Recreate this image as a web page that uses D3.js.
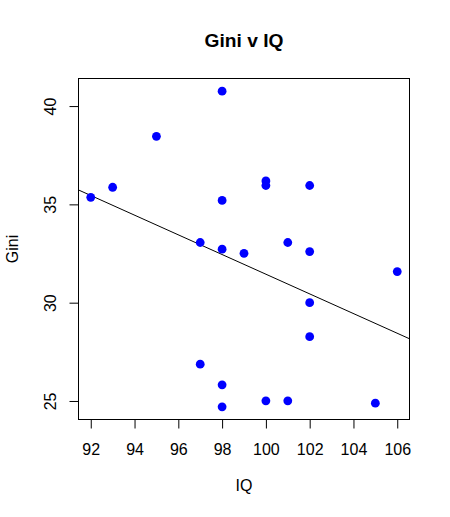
<!DOCTYPE html>
<html>
<head>
<meta charset="utf-8">
<script src="https://cdn.jsdelivr.net/npm/d3@7"></script>
<style>
  body { margin: 0; background: #fff; }
  svg { display: block; font-family: "Liberation Sans", Arial, sans-serif; }
</style>
</head>
<body>
<div class="wrapper"></div>
<script>
// IQ (x) and Gini (y)
var iq   = [92, 93, 95, 98, 98, 97, 98, 99, 97, 98, 98, 100, 100, 102, 101, 102, 106, 102, 102, 100, 101, 105];
var gini = [35.36, 35.87, 38.46, 40.76, 35.20, 33.06, 32.72, 32.51, 26.87, 25.82, 24.70, 36.19, 35.96, 35.96, 33.06, 32.60, 31.58, 30.00, 28.27, 25.01, 25.01, 24.89];
var xTicks = [92, 94, 96, 98, 100, 102, 104, 106];
var yTicks = [25, 30, 35, 40];

var w = 450,
    h = 517,
    margin = {top: 78.5, right: 40.5, bottom: 97.5, left: 78.5};

var svg = d3.select(".wrapper").append("svg")
    .attr("width", w)
    .attr("height", h);

// R style axis range: data range padded by 4% each side
function pad(ext) {
  var d = (ext[1] - ext[0]) * 0.04;
  return [ext[0] - d, ext[1] + d];
}

var x = d3.scaleLinear()
    .domain(pad(d3.extent(iq)))
    .range([margin.left, w - margin.right]);

var y = d3.scaleLinear()
    .domain(pad(d3.extent(gini)))
    .range([h - margin.bottom, margin.top]);

var data = iq.map(function(d, i) { return {x: d, y: gini[i]}; });

// least squares fit, like abline(lm(Gini ~ IQ))
var mx = d3.mean(iq), my = d3.mean(gini);
var sxy = d3.sum(data, function(d) { return (d.x - mx) * (d.y - my); });
var sxx = d3.sum(data, function(d) { return (d.x - mx) * (d.x - mx); });
var slope = sxy / sxx,
    icpt = my - slope * mx;

svg.append("clipPath").attr("id", "plotclip")
  .append("rect")
    .attr("x", margin.left)
    .attr("y", margin.top)
    .attr("width", w - margin.left - margin.right)
    .attr("height", h - margin.top - margin.bottom);

var xd = x.domain();
svg.append("line")
    .attr("clip-path", "url(#plotclip)")
    .attr("x1", x(xd[0])).attr("y1", y(icpt + slope * xd[0]))
    .attr("x2", x(xd[1])).attr("y2", y(icpt + slope * xd[1]))
    .attr("stroke", "black")
    .attr("stroke-width", 1);

svg.selectAll("circle")
    .data(data)
  .enter().append("circle")
    .attr("cx", function(d) { return x(d.x); })
    .attr("cy", function(d) { return y(d.y); })
    .attr("r", 4.4)
    .attr("fill", "#0000ff");

// box
svg.append("rect")
    .attr("x", margin.left)
    .attr("y", margin.top)
    .attr("width", w - margin.left - margin.right)
    .attr("height", h - margin.top - margin.bottom)
    .attr("fill", "none")
    .attr("stroke", "black");

// x axis
var xAxis = d3.axisBottom(x)
    .tickValues(xTicks)
    .tickSize(9)
    .tickPadding(5)
    .tickSizeOuter(0);

var gx = svg.append("g")
    .attr("transform", "translate(0," + (h - margin.bottom) + ")")
    .call(xAxis);
gx.select(".domain").attr("d", "M" + x(xTicks[0]) + ",0H" + x(xTicks[xTicks.length - 1]));
gx.selectAll("line").attr("stroke", "black");
gx.selectAll("text")
    .attr("font-size", 16)
    .attr("fill", "black")
    .attr("font-family", null)
    .attr("dy", null)
    .attr("y", 35);

// y axis
var yAxis = d3.axisLeft(y)
    .tickValues(yTicks)
    .tickSize(9)
    .tickSizeOuter(0);

var gy = svg.append("g")
    .attr("transform", "translate(" + margin.left + ",0)")
    .call(yAxis);
gy.select(".domain").attr("d", "M0," + y(yTicks[0]) + "V" + y(yTicks[yTicks.length - 1]));
gy.selectAll("line").attr("stroke", "black");
gy.selectAll("text")
    .attr("font-size", 16)
    .attr("fill", "black")
    .attr("font-family", null)
    .attr("x", null)
    .attr("dy", null)
    .attr("text-anchor", "middle")
    .attr("transform", "translate(-22.5,0) rotate(-90)");

// titles
svg.append("text")
    .attr("x", (margin.left + w - margin.right) / 2)
    .attr("y", 46.7)
    .attr("text-anchor", "middle")
    .attr("font-size", 19.2)
    .attr("font-weight", "bold")
    .text("Gini v IQ");

svg.append("text")
    .attr("x", (margin.left + w - margin.right) / 2)
    .attr("y", 491)
    .attr("text-anchor", "middle")
    .attr("font-size", 16)
    .text("IQ");

svg.append("text")
    .attr("transform", "translate(18.3," + ((margin.top + h - margin.bottom) / 2) + ") rotate(-90)")
    .attr("text-anchor", "middle")
    .attr("font-size", 16)
    .text("Gini");
</script>
</body>
</html>
